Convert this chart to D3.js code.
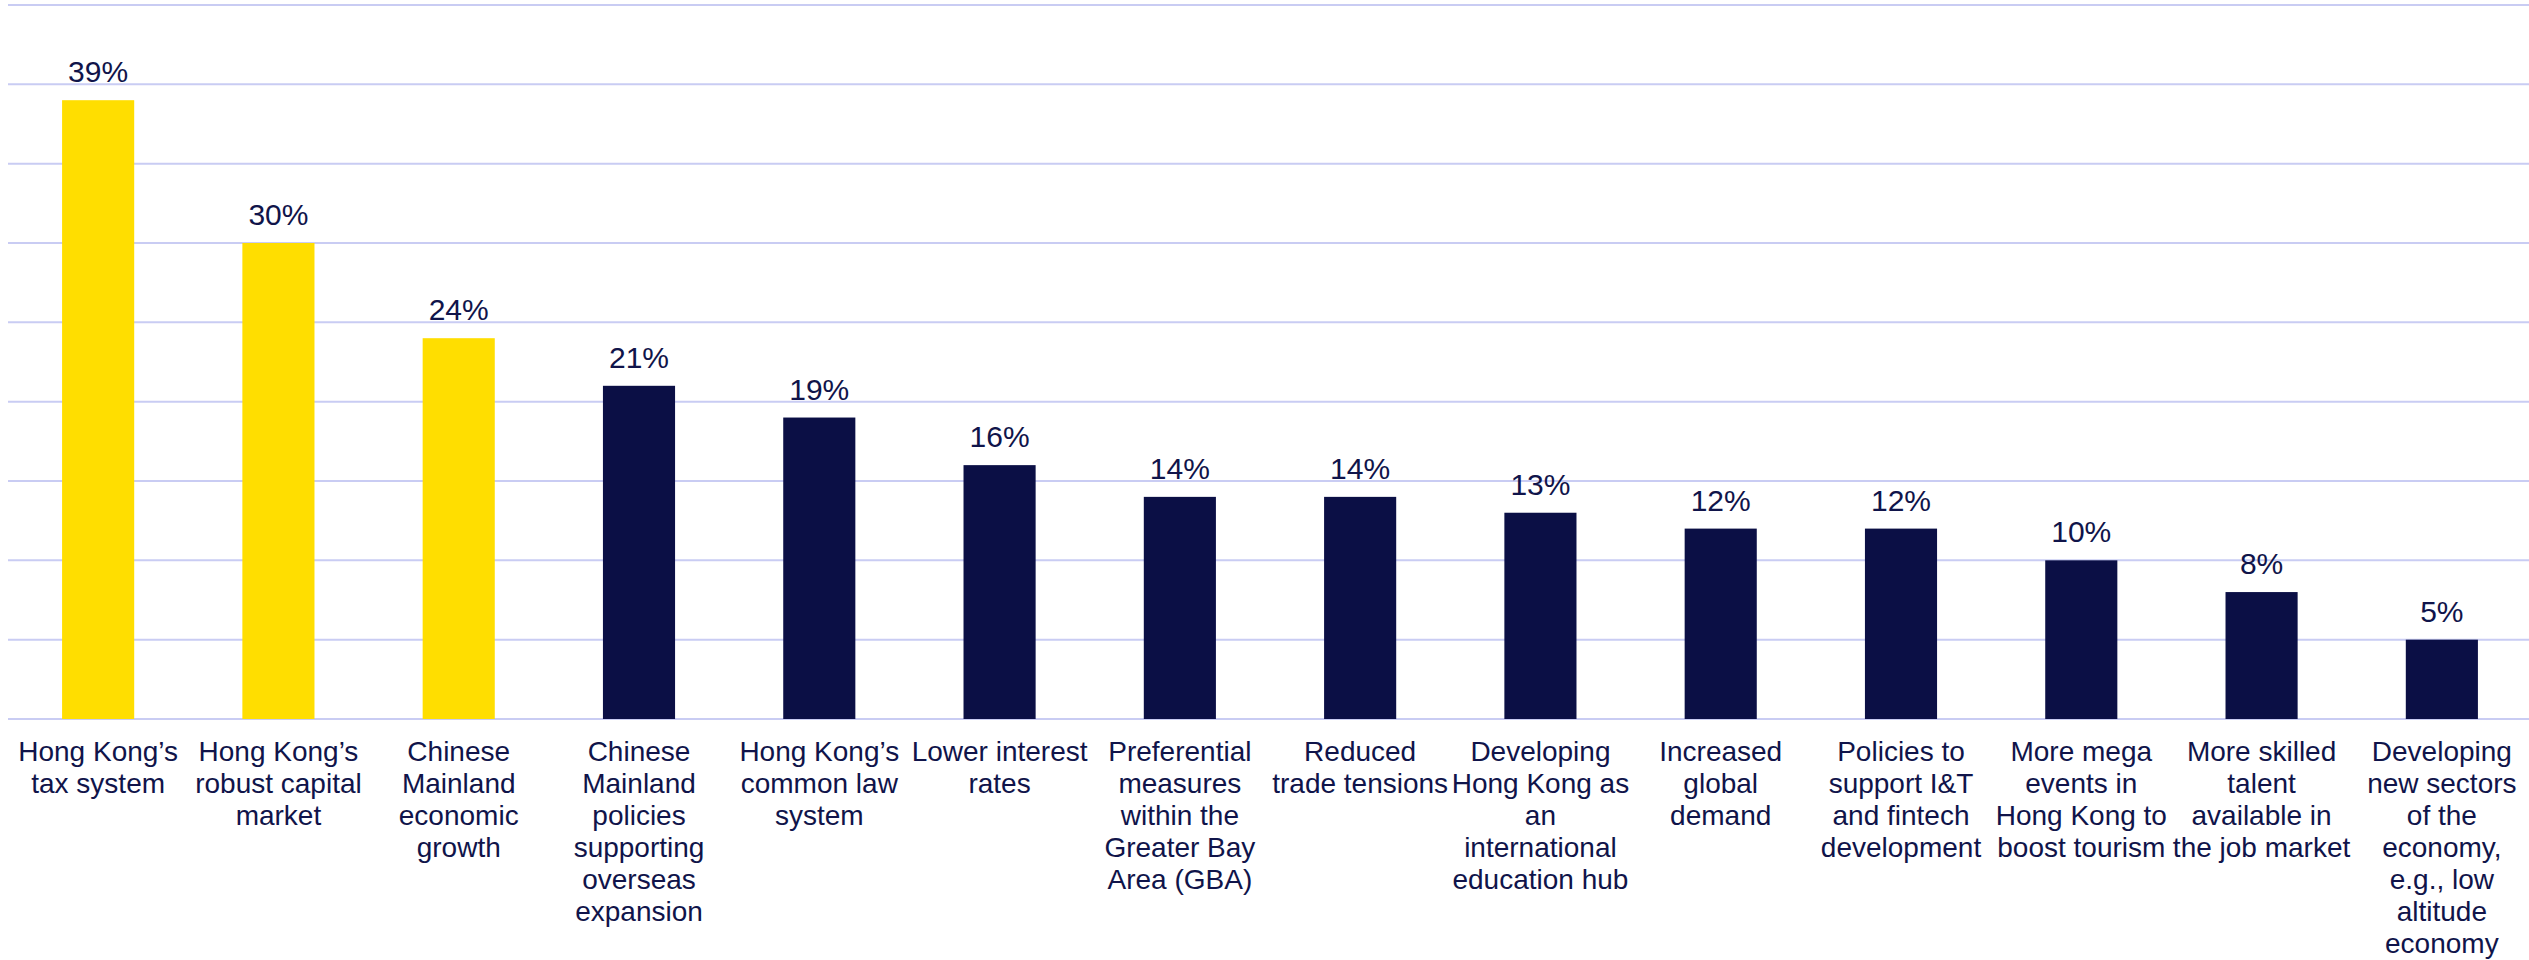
<!DOCTYPE html>
<html>
<head>
<meta charset="utf-8">
<script src="https://cdn.jsdelivr.net/npm/d3@7"></script>
<style>
  html, body { margin: 0; padding: 0; background: #ffffff; }
  svg { display: block; }
  text { font-family: "Liberation Sans", Arial, sans-serif; }
</style>
</head>
<body>
<div id="chart"></div>
<script>
// Factors cited as supporting Hong Kong's outlook (share of respondents)
const categories = [
  "Hong Kong’s tax system",
  "Hong Kong’s robust capital market",
  "Chinese Mainland economic growth",
  "Chinese Mainland policies supporting overseas expansion",
  "Hong Kong’s common law system",
  "Lower interest rates",
  "Preferential measures within the Greater Bay Area (GBA)",
  "Reduced trade tensions",
  "Developing Hong Kong as an international education hub",
  "Increased global demand",
  "Policies to support I&T and fintech development",
  "More mega events in Hong Kong to boost tourism",
  "More skilled talent available in the job market",
  "Developing new sectors of the economy, e.g., low altitude economy"
];

// Wrapped tick label lines for each category
const labelLines = [
  ["Hong Kong’s", "tax system"],
  ["Hong Kong’s", "robust capital", "market"],
  ["Chinese", "Mainland", "economic", "growth"],
  ["Chinese", "Mainland", "policies", "supporting", "overseas", "expansion"],
  ["Hong Kong’s", "common law", "system"],
  ["Lower interest", "rates"],
  ["Preferential", "measures", "within the", "Greater Bay", "Area (GBA)"],
  ["Reduced", "trade tensions"],
  ["Developing", "Hong Kong as", "an", "international", "education hub"],
  ["Increased", "global", "demand"],
  ["Policies to", "support I&T", "and fintech", "development"],
  ["More mega", "events in", "Hong Kong to", "boost tourism"],
  ["More skilled", "talent", "available in", "the job market"],
  ["Developing", "new sectors", "of the", "economy,", "e.g., low", "altitude", "economy"]
];

const values = [39, 30, 24, 21, 19, 16, 14, 14, 13, 12, 12, 10, 8, 5];

// The top three factors are highlighted
const highlighted = [true, true, true, false, false, false, false, false, false, false, false, false, false, false];

const gridTicks = [0, 5, 10, 15, 20, 25, 30, 35, 40, 45];

const W = 2529, H = 960;
const YELLOW = "#ffde00";
const NAVY = "#0b0f45";
const TEXT = "#10144a";
const GRID = "#c9ccf3";

const svg = d3.select("#chart").append("svg")
  .attr("width", W).attr("height", H);

const x = d3.scaleBand()
  .domain(categories)
  .range([8, 2532])
  .paddingInner(0.6)
  .paddingOuter(0.3);

const y = d3.scaleLinear()
  .domain([0, 45])
  .range([719, 5]);

// Horizontal gridlines
svg.append("g")
  .selectAll("line")
  .data(gridTicks)
  .join("line")
  .attr("x1", 8)
  .attr("x2", W)
  .attr("y1", d => y(d))
  .attr("y2", d => y(d))
  .attr("stroke", GRID)
  .attr("stroke-width", 2);

// Bars
svg.append("g")
  .selectAll("rect")
  .data(values)
  .join("rect")
  .attr("x", (d, i) => x(categories[i]))
  .attr("width", x.bandwidth())
  .attr("y", d => y(d))
  .attr("height", d => y(0) - y(d))
  .attr("fill", (d, i) => highlighted[i] ? YELLOW : NAVY);

// Value labels above bars
svg.append("g")
  .selectAll("text")
  .data(values)
  .join("text")
  .attr("x", (d, i) => x(categories[i]) + x.bandwidth() / 2)
  .attr("y", d => y(d) - 18)
  .attr("text-anchor", "middle")
  .attr("font-size", 30)
  .attr("fill", TEXT)
  .text(d => d + "%");

// Category axis labels
const xAxis = d3.axisBottom(x).tickSize(0).tickFormat("");
const axisG = svg.append("g")
  .attr("transform", `translate(0,${y(0)})`)
  .call(xAxis);
axisG.select(".domain").remove();

axisG.selectAll(".tick").each(function(d, i) {
  const t = d3.select(this).append("text")
    .attr("text-anchor", "middle")
    .attr("font-size", 28)
    .attr("fill", TEXT)
    .attr("y", 42);
  labelLines[i].forEach((line, j) => {
    t.append("tspan")
      .attr("x", 0)
      .attr("dy", j === 0 ? 0 : 32)
      .text(line);
  });
});
</script>
</body>
</html>
